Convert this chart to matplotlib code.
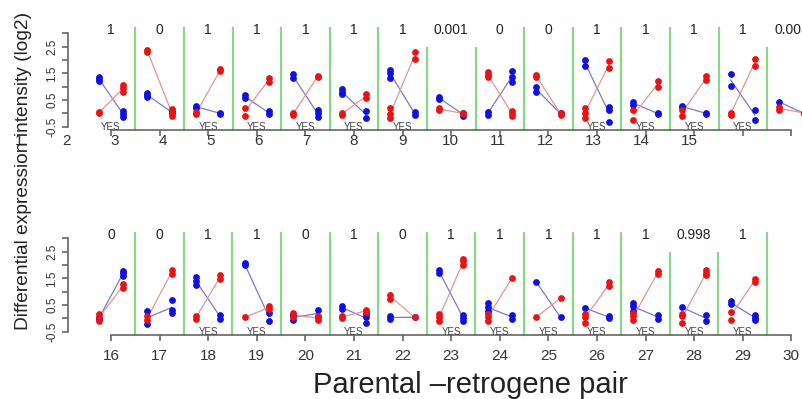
import numpy as np
import matplotlib.pyplot as plt

plt.rcParams['font.family'] = ['Liberation Sans', 'DejaVu Sans']

# pair number, probability label above each pair, "YES" flag under each pair
pairs = list(range(1, 31))
prob_labels = ["1", "0", "1", "1", "1", "1", "1", "0.001", "0", "0", "1", "1", "1", "1", "0.005",
               "0", "0", "1", "1", "0", "1", "0", "1", "1", "1", "1", "1", "0.998", "1", ""]
yes_flags = [1, 0, 1, 1, 1, 1, 1, 0, 0, 0, 1, 1, 1, 1, 0,
             0, 0, 1, 1, 0, 1, 0, 1, 1, 1, 1, 1, 1, 1, 0]

# replicate values (log2), left = first condition, right = second condition
blue_left = [[1.37, 1.3, 1.21], [0.77, 0.68, 0.6], [0.28, 0.21], [0.68, 0.58], [1.46, 1.31],
             [0.91, 0.81, 0.71], [1.62, 1.5, 1.31], [0.62, 0.53], [0.06, -0.07], [1.0, 0.81],
             [2.0, 1.79], [0.43, 0.33], [0.28, 0.24], [1.46, 1.04], [0.43],
             [0.02, -0.02], [0.26, -0.21], [1.54, 1.39, 1.24], [2.07, 1.99], [0.11, -0.05],
             [0.45, 0.36], [0.08, -0.01], [1.82, 1.7], [0.57, 0.41, 0.26], [1.36],
             [0.39], [0.57, 0.45, 0.29], [0.41], [0.64, 0.54], []]
red_left = [[0.0, 0.04], [2.37, 2.28], [0.06, -0.04], [0.21, -0.09], [0.03, -0.07],
            [0.03, -0.07], [0.21, -0.04, -0.16], [0.21, 0.12], [1.53, 1.43, 1.37], [1.43, 1.37],
            [0.21, 0.0, -0.16], [0.12, -0.25], [0.12, -0.09], [0.03, -0.07], [0.25, 0.12],
            [0.16, 0.04, -0.11], [0.08, -0.05], [0.08, -0.01], [0.04], [0.2, 0.04],
            [0.08, 0.01], [0.89, 0.74], [0.16, 0.04, -0.11], [0.16, 0.04, -0.11], [0.04],
            [0.16, 0.04, -0.17], [0.2, 0.08, -0.05], [0.16, 0.08, -0.17], [0.24, -0.05], []]
blue_right = [[0.09, -0.04, -0.13], [0.08, 0.0], [0.03, -0.03], [0.08, -0.04], [0.12, 0.0, -0.13],
              [0.08, -0.19], [0.06, -0.07], [0.0, -0.09], [1.58, 1.37, 1.18], [0.0, -0.03],
              [0.25, 0.12, -0.34], [0.03, -0.04], [0.03, -0.04], [0.12, -0.25], [0.0],
              [1.79, 1.7, 1.57], [0.7, 0.33, 0.2], [0.11, -0.01], [0.2, -0.09], [0.33, 0.04],
              [0.16, 0.04, -0.17], [0.04], [0.11, 0.01, -0.09], [0.11, -0.01], [0.04],
              [0.08, 0.0], [0.11, -0.01], [0.11, -0.11], [0.11, 0.01, -0.05], []]
red_right = [[1.06, 0.94, 0.81], [0.16, 0.0, -0.09], [1.65, 1.6], [1.34, 1.18], [1.4, 1.35],
             [0.71, 0.58], [2.31, 2.04], [0.03, -0.04], [0.08, 0.0, -0.09], [0.03, -0.07],
             [1.96, 1.71], [1.21, 1.0], [1.41, 1.25], [2.04, 1.79], [0.03, 0.0],
             [1.29, 1.14], [1.82, 1.66], [1.64, 1.49], [0.45, 0.36], [0.08, -0.05],
             [0.33, 0.24], [0.04], [2.24, 2.14, 2.01], [1.51], [0.76],
             [1.36, 1.2], [1.76, 1.66], [1.82, 1.7, 1.61], [1.49, 1.36], []]

BLUE = "#1010e0"
RED = "#e81414"
BLUE_LINE = "#7a7ac8"
RED_LINE = "#e89494"
GREEN = "#8ad68a"
AXIS = "#666666"

W, H = 802, 399
fig = plt.figure(figsize=(W / 100, H / 100), dpi=100)

px_unit_x = 48.6
px_unit_y = 26.7
ylo, yhi = -1.0, 3.7


def panel(first, zero_px):
    # zero_px: pixel row of y = -0.5
    left_px = 68
    tick_px = 111
    x0 = first - (tick_px - left_px) / px_unit_x
    x1 = first + (W - tick_px) / px_unit_x
    bottom_px = zero_px + (-0.5 - ylo) * px_unit_y
    height_px = (yhi - ylo) * px_unit_y
    ax = fig.add_axes([left_px / W, 1 - bottom_px / H, (W - left_px) / W, height_px / H])
    ax.set_xlim(x0, x1)
    ax.set_ylim(ylo, yhi)
    ax.patch.set_alpha(0)
    return ax


def draw(ax, first):
    last = first + 14
    for i in range(first - 1, last):
        k = pairs[i]
        xl, xr = k - 0.25, k + 0.25
        if blue_left[i]:
            ax.plot([xl, xr], [np.mean(blue_left[i]), np.mean(blue_right[i])],
                    color=BLUE_LINE, lw=0.9, zorder=2, clip_on=False)
            ax.plot([xl, xr], [np.mean(red_left[i]), np.mean(red_right[i])],
                    color=RED_LINE, lw=0.9, zorder=2, clip_on=False)
            ax.scatter([xl] * len(blue_left[i]), blue_left[i], s=24, color=BLUE, lw=0, zorder=3, clip_on=False)
            ax.scatter([xr] * len(blue_right[i]), blue_right[i], s=24, color=BLUE, lw=0, zorder=3, clip_on=False)
            ax.scatter([xl] * len(red_left[i]), red_left[i], s=24, color=RED, lw=0, zorder=4, clip_on=False)
            ax.scatter([xr] * len(red_right[i]), red_right[i], s=24, color=RED, lw=0, zorder=4, clip_on=False)
        if k < last:
            ax.plot([k + 0.5, k + 0.5], [-0.62, 3.2], color=GREEN, lw=1.6, zorder=1)
        if prob_labels[i]:
            ax.text(k, 3.12, prob_labels[i], ha='center', va='center', fontsize=10, color='#222222',
                    zorder=5, bbox=dict(boxstyle='square,pad=0.75', fc='white', ec='none'))
        if yes_flags[i]:
            ax.text(k, -0.5, "YES", ha='center', va='center', fontsize=7, color='#444444', zorder=5)

    for s in ['top', 'right']:
        ax.spines[s].set_visible(False)
    ax.spines['bottom'].set_position(('data', -0.62))
    ax.spines['bottom'].set_bounds(first, last)
    ax.spines['left'].set_bounds(-0.5, 3.0)
    for s in ['bottom', 'left']:
        ax.spines[s].set_color(AXIS)
        ax.spines[s].set_linewidth(1.2)
    ax.set_xticks(range(first, last + 1))
    ax.set_yticks(np.arange(-0.5, 3.01, 0.5))
    ax.set_yticklabels(["-0.5", "", "0.5", "", "1.5", "", "2.5", ""])
    ax.tick_params(axis='both', color=AXIS, width=1.2, length=4, labelcolor='#333333')
    ax.tick_params(axis='y', labelsize=8.5, labelrotation=90, pad=3)
    for t in ax.get_yticklabels():
        t.set_va('center')
    ax.tick_params(axis='x', labelsize=11, pad=6)


top = panel(1, 126.7)
draw(top, 1)
top.set_xticklabels([])
# the pair numbers under the upper panel sit shifted to the left
for k in range(1, 16):
    top.text(k - 1.9 - 0.014 * (k - 1), -1.04, str(k), ha='center', va='center',
             fontsize=11, color='#333333')

bottom = panel(16, 331.7)
draw(bottom, 16)

fig.text(0.029, 0.572, "Differential expression intensity (log2)", rotation=90,
         ha='center', va='center', fontsize=13.8, color='#222222')
fig.text(0.587, 0.035, "Parental \u2013retrogene pair", ha='center', va='center',
         fontsize=21, color='#222222')

fig.savefig("out.png", dpi=100)
